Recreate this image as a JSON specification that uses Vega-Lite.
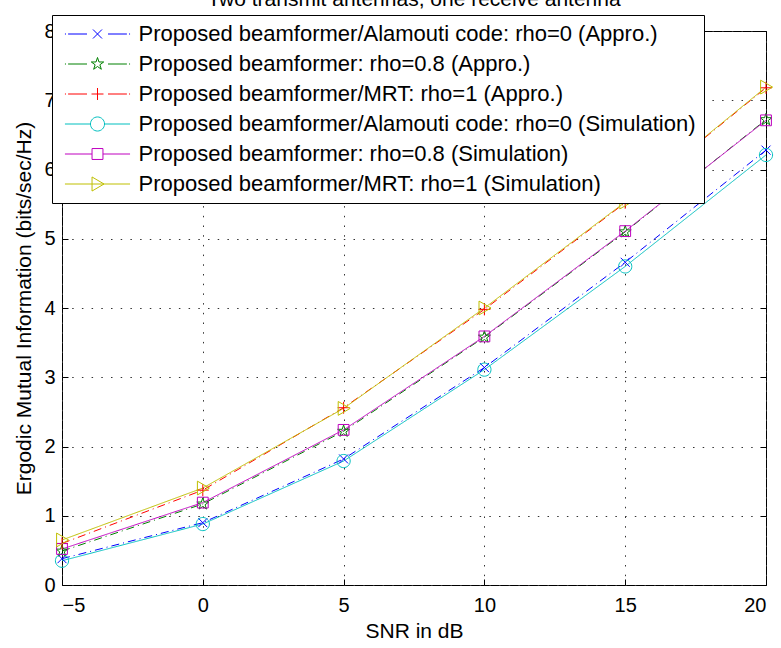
{
  "$schema": "https://vega.github.io/schema/vega-lite/v6.json",
  "width": 704,
  "height": 554,
  "autosize": {"type": "none"},
  "padding": {"left": 62, "top": 31, "right": 15, "bottom": 63},
  "background": "white",
  "title": {
    "text": "Two transmit antennas, one receive antenna",
    "fontSize": 21,
    "font": "Liberation Sans",
    "fontWeight": "normal",
    "color": "black",
    "baseline": "alphabetic",
    "offset": -12,
    "anchor": "middle"
  },
  "config": {
    "view": {"stroke": "black", "strokeWidth": 1},
    "font": "Liberation Sans",
    "axis": {
      "labelColor": "black",
      "titleColor": "black",
      "tickColor": "black",
      "tickWidth": 1,
      "gridColor": "#333333",
      "gridDash": [1.5, 8.2],
      "gridWidth": 1,
      "gridOpacity": 1,
      "labelFont": "Liberation Sans",
      "titleFont": "Liberation Sans"
    }
  },
  "data": {
    "values": [
      {"series": "Proposed beamformer/Alamouti code: rho=0 (Appro.)", "snr": -5, "value": 0.38},
      {"series": "Proposed beamformer/Alamouti code: rho=0 (Appro.)", "snr": 0, "value": 0.90},
      {"series": "Proposed beamformer/Alamouti code: rho=0 (Appro.)", "snr": 5, "value": 1.82},
      {"series": "Proposed beamformer/Alamouti code: rho=0 (Appro.)", "snr": 10, "value": 3.14},
      {"series": "Proposed beamformer/Alamouti code: rho=0 (Appro.)", "snr": 15, "value": 4.66},
      {"series": "Proposed beamformer/Alamouti code: rho=0 (Appro.)", "snr": 20, "value": 6.28},
      {"series": "Proposed beamformer: rho=0.8 (Appro.)", "snr": -5, "value": 0.49},
      {"series": "Proposed beamformer: rho=0.8 (Appro.)", "snr": 0, "value": 1.17},
      {"series": "Proposed beamformer: rho=0.8 (Appro.)", "snr": 5, "value": 2.22},
      {"series": "Proposed beamformer: rho=0.8 (Appro.)", "snr": 10, "value": 3.58},
      {"series": "Proposed beamformer: rho=0.8 (Appro.)", "snr": 15, "value": 5.10},
      {"series": "Proposed beamformer: rho=0.8 (Appro.)", "snr": 20, "value": 6.72},
      {"series": "Proposed beamformer/MRT: rho=1 (Appro.)", "snr": -5, "value": 0.60},
      {"series": "Proposed beamformer/MRT: rho=1 (Appro.)", "snr": 0, "value": 1.37},
      {"series": "Proposed beamformer/MRT: rho=1 (Appro.)", "snr": 5, "value": 2.56},
      {"series": "Proposed beamformer/MRT: rho=1 (Appro.)", "snr": 10, "value": 3.98},
      {"series": "Proposed beamformer/MRT: rho=1 (Appro.)", "snr": 15, "value": 5.52},
      {"series": "Proposed beamformer/MRT: rho=1 (Appro.)", "snr": 20, "value": 7.18},
      {"series": "Proposed beamformer/Alamouti code: rho=0 (Simulation)", "snr": -5, "value": 0.35},
      {"series": "Proposed beamformer/Alamouti code: rho=0 (Simulation)", "snr": 0, "value": 0.88},
      {"series": "Proposed beamformer/Alamouti code: rho=0 (Simulation)", "snr": 5, "value": 1.79},
      {"series": "Proposed beamformer/Alamouti code: rho=0 (Simulation)", "snr": 10, "value": 3.11},
      {"series": "Proposed beamformer/Alamouti code: rho=0 (Simulation)", "snr": 15, "value": 4.60},
      {"series": "Proposed beamformer/Alamouti code: rho=0 (Simulation)", "snr": 20, "value": 6.21},
      {"series": "Proposed beamformer: rho=0.8 (Simulation)", "snr": -5, "value": 0.52},
      {"series": "Proposed beamformer: rho=0.8 (Simulation)", "snr": 0, "value": 1.19},
      {"series": "Proposed beamformer: rho=0.8 (Simulation)", "snr": 5, "value": 2.24},
      {"series": "Proposed beamformer: rho=0.8 (Simulation)", "snr": 10, "value": 3.59},
      {"series": "Proposed beamformer: rho=0.8 (Simulation)", "snr": 15, "value": 5.11},
      {"series": "Proposed beamformer: rho=0.8 (Simulation)", "snr": 20, "value": 6.71},
      {"series": "Proposed beamformer/MRT: rho=1 (Simulation)", "snr": -5, "value": 0.65},
      {"series": "Proposed beamformer/MRT: rho=1 (Simulation)", "snr": 0, "value": 1.40},
      {"series": "Proposed beamformer/MRT: rho=1 (Simulation)", "snr": 5, "value": 2.55},
      {"series": "Proposed beamformer/MRT: rho=1 (Simulation)", "snr": 10, "value": 4.00},
      {"series": "Proposed beamformer/MRT: rho=1 (Simulation)", "snr": 15, "value": 5.53},
      {"series": "Proposed beamformer/MRT: rho=1 (Simulation)", "snr": 20, "value": 7.19}
    ]
  },
  "layer": [
    {
      "mark": {"type": "line", "strokeWidth": 1},
      "encoding": {
        "x": {
          "field": "snr", "type": "quantitative",
          "scale": {"domain": [-5, 20], "nice": false, "zero": false},
          "axis": {
            "orient": "bottom", "values": [-5, 0, 5, 10, 15, 20], "grid": true, "ticks": false, "domain": false,
            "labelFontSize": 20, "labelPadding": 10,
            "title": "SNR in dB", "titleFontSize": 21, "titleFontWeight": "normal",
            "titleBaseline": "top", "titleY": 35, "titleX": 352
          }
        },
        "y": {
          "field": "value", "type": "quantitative",
          "scale": {"domain": [0, 8], "nice": false},
          "axis": {
            "orient": "left", "values": [0, 1, 2, 3, 4, 5, 6, 7, 8], "grid": true, "ticks": false, "domain": false,
            "labelFontSize": 20, "labelPadding": 7,
            "title": "Ergodic Mutual Information (bits/sec/Hz)", "titleFontSize": 21, "titleFontWeight": "normal",
            "titleBaseline": "alphabetic", "titleX": -32, "titleY": 277, "titleAngle": -90
          }
        },
        "color": {
          "field": "series", "type": "nominal", "legend": null,
          "scale": {
            "domain": [
              "Proposed beamformer/Alamouti code: rho=0 (Appro.)",
              "Proposed beamformer: rho=0.8 (Appro.)",
              "Proposed beamformer/MRT: rho=1 (Appro.)",
              "Proposed beamformer/Alamouti code: rho=0 (Simulation)",
              "Proposed beamformer: rho=0.8 (Simulation)",
              "Proposed beamformer/MRT: rho=1 (Simulation)"
            ],
            "range": ["#0000ff", "#008000", "#ff0000", "#00bfbf", "#bf00bf", "#bfbf00"]
          }
        },
        "strokeDash": {
          "field": "series", "type": "nominal", "legend": null,
          "scale": {
            "domain": [
              "Proposed beamformer/Alamouti code: rho=0 (Appro.)",
              "Proposed beamformer: rho=0.8 (Appro.)",
              "Proposed beamformer/MRT: rho=1 (Appro.)",
              "Proposed beamformer/Alamouti code: rho=0 (Simulation)",
              "Proposed beamformer: rho=0.8 (Simulation)",
              "Proposed beamformer/MRT: rho=1 (Simulation)"
            ],
            "range": [[8, 4, 1, 4], [8, 4, 1, 4], [8, 4, 1, 4], [1, 0], [1, 0], [1, 0]]
          }
        }
      }
    },
    {
      "mark": {"type": "point", "filled": false, "size": 144, "strokeWidth": 1, "opacity": 1},
      "encoding": {
        "x": {
          "field": "snr", "type": "quantitative",
          "scale": {"domain": [-5, 20], "nice": false, "zero": false},
          "axis": {"orient": "top", "values": [-5, 0, 5, 10, 15, 20], "grid": false, "labels": false, "domain": false, "ticks": true, "tickSize": -6, "title": null}
        },
        "y": {
          "field": "value", "type": "quantitative",
          "scale": {"domain": [0, 8], "nice": false},
          "axis": {"orient": "right", "values": [0, 1, 2, 3, 4, 5, 6, 7, 8], "grid": false, "labels": false, "domain": false, "ticks": true, "tickSize": -6, "title": null}
        },
        "color": {
          "field": "series", "type": "nominal", "legend": null,
          "scale": {
            "domain": [
              "Proposed beamformer/Alamouti code: rho=0 (Appro.)",
              "Proposed beamformer: rho=0.8 (Appro.)",
              "Proposed beamformer/MRT: rho=1 (Appro.)",
              "Proposed beamformer/Alamouti code: rho=0 (Simulation)",
              "Proposed beamformer: rho=0.8 (Simulation)",
              "Proposed beamformer/MRT: rho=1 (Simulation)"
            ],
            "range": ["#0000ff", "#008000", "#ff0000", "#00bfbf", "#bf00bf", "#bfbf00"]
          }
        },
        "shape": {
          "field": "series", "type": "nominal", "legend": null,
          "scale": {
            "domain": [
              "Proposed beamformer/Alamouti code: rho=0 (Appro.)",
              "Proposed beamformer: rho=0.8 (Appro.)",
              "Proposed beamformer/MRT: rho=1 (Appro.)",
              "Proposed beamformer/Alamouti code: rho=0 (Simulation)",
              "Proposed beamformer: rho=0.8 (Simulation)",
              "Proposed beamformer/MRT: rho=1 (Simulation)"
            ],
            "range": [
              "M-0.75,-0.75L0.75,0.75M-0.75,0.75L0.75,-0.75",
              "M0,-1.05L0.236,-0.324L0.999,-0.324L0.381,0.124L0.617,0.849L0,0.401L-0.617,0.849L-0.381,0.124L-0.999,-0.324L-0.236,-0.324Z",
              "M-1,0H1M0,-1V1",
              "M1.1,0A1.1,1.1 0 1,1 -1.1,0A1.1,1.1 0 1,1 1.1,0",
              "M-0.9,-0.9H0.9V0.9H-0.9Z",
              "M-0.9,-1.15L1.1,0L-0.9,1.15Z"
            ]
          }
        }
      }
    },
    {
      "mark": {"type": "point", "filled": false, "size": 144, "strokeWidth": 1, "opacity": 0},
      "encoding": {
        "x": {
          "field": "snr", "type": "quantitative",
          "scale": {"domain": [-5, 20], "nice": false, "zero": false},
          "axis": {"orient": "bottom", "values": [-5, 0, 5, 10, 15, 20], "grid": false, "labels": false, "domain": false, "ticks": true, "tickSize": -6, "title": null}
        },
        "y": {
          "field": "value", "type": "quantitative",
          "scale": {"domain": [0, 8], "nice": false},
          "axis": {"orient": "left", "values": [0, 1, 2, 3, 4, 5, 6, 7, 8], "grid": false, "labels": false, "domain": false, "ticks": true, "tickSize": -6, "title": null}
        },
        "color": {
          "field": "series", "type": "nominal",
          "scale": {
            "domain": [
              "Proposed beamformer/Alamouti code: rho=0 (Appro.)",
              "Proposed beamformer: rho=0.8 (Appro.)",
              "Proposed beamformer/MRT: rho=1 (Appro.)",
              "Proposed beamformer/Alamouti code: rho=0 (Simulation)",
              "Proposed beamformer: rho=0.8 (Simulation)",
              "Proposed beamformer/MRT: rho=1 (Simulation)"
            ],
            "range": ["#0000ff", "#008000", "#ff0000", "#00bfbf", "#bf00bf", "#bfbf00"]
          },
          "legend": {
            "title": null, "orient": "none", "legendX": -10, "legendY": -16,
            "symbolSize": 441, "symbolStrokeWidth": 1, "symbolOpacity": 1, "symbolFillColor": "transparent",
            "labelFontSize": 22, "labelFont": "Liberation Sans", "labelColor": "black", "labelLimit": 0,
            "labelOffset": 30, "symbolOffset": 26.5, "padding": 8, "rowPadding": 8,
            "strokeColor": "black", "fillColor": "white"
          }
        },
        "shape": {
          "field": "series", "type": "nominal",
          "scale": {
            "domain": [
              "Proposed beamformer/Alamouti code: rho=0 (Appro.)",
              "Proposed beamformer: rho=0.8 (Appro.)",
              "Proposed beamformer/MRT: rho=1 (Appro.)",
              "Proposed beamformer/Alamouti code: rho=0 (Simulation)",
              "Proposed beamformer: rho=0.8 (Simulation)",
              "Proposed beamformer/MRT: rho=1 (Simulation)"
            ],
            "range": [
              "M-3.1,0H-3.0M-2.8,0H-1.0M1.0,0H2.8M3.0,0H3.1M-0.43,-0.43L0.43,0.43M-0.43,0.43L0.43,-0.43",
              "M-3.1,0H-3.0M-2.8,0H-1.0M1.0,0H2.8M3.0,0H3.1M0,-0.62L0.139,-0.192L0.59,-0.192L0.225,0.073L0.365,0.502L0,0.237L-0.365,0.502L-0.225,0.073L-0.59,-0.192L-0.139,-0.192Z",
              "M-3.1,0H-3.0M-2.8,0H-1.0M1.0,0H2.8M3.0,0H3.1M-0.57,0H0.57M0,-0.57V0.57",
              "M-3.1,0H-0.67M0.67,0H3.1M0.67,0A0.67,0.67 0 1,1 -0.67,0A0.67,0.67 0 1,1 0.67,0",
              "M-3.1,0H-0.52M0.52,0H3.1M-0.52,-0.52H0.52V0.52H-0.52Z",
              "M-3.1,0H3.1M-0.52,-0.67L0.62,0L-0.52,0.67Z"
            ]
          },
          "legend": {
            "title": null, "orient": "none", "legendX": -10, "legendY": -16,
            "symbolSize": 441, "symbolStrokeWidth": 1, "symbolOpacity": 1, "symbolFillColor": "transparent",
            "labelFontSize": 22, "labelFont": "Liberation Sans", "labelColor": "black", "labelLimit": 0,
            "labelOffset": 30, "symbolOffset": 26.5, "padding": 8, "rowPadding": 8,
            "strokeColor": "black", "fillColor": "white"
          }
        }
      }
    }
  ],
  "resolve": {
    "scale": {"shape": "independent", "color": "independent", "strokeDash": "independent"},
    "axis": {"x": "independent", "y": "independent"}
  }
}
